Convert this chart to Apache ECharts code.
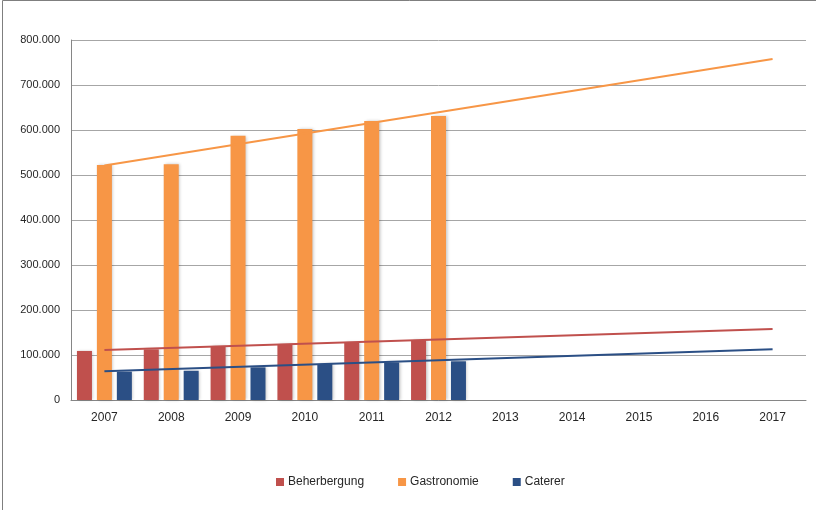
<!DOCTYPE html>
<html>
<head>
<meta charset="utf-8">
<script src="https://cdn.jsdelivr.net/npm/echarts@6/dist/echarts.min.js"></script>
<style>html,body{margin:0;padding:0;background:#fff;}#c{width:816px;height:510px;}</style>
</head>
<body>
<div id="c"></div>
<script>
const years = ['2007','2008','2009','2010','2011','2012','2013','2014','2015','2016','2017'];
const beherbergung = [109000, 112500, 119000, 124000, 129000, 133000, null, null, null, null, null];
const gastronomie = [522000, 524000, 587000, 602000, 620000, 631000, null, null, null, null, null];
const caterer = [63000, 65000, 72500, 80000, 83500, 86000, null, null, null, null, null];
const trendBeherbergung = [111000, null, null, null, null, null, null, null, null, null, 158000];
const trendGastronomie = [521000, null, null, null, null, null, null, null, null, null, 758000];
const trendCaterer = [64000, null, null, null, null, null, null, null, null, null, 113000];
const yTicks = [0, 100000, 200000, 300000, 400000, 500000, 600000, 700000, 800000];

const C_RED = '#C0504D', C_ORANGE = '#F79646', C_BLUE = '#2B4F85';
const font = '"Liberation Sans", Arial, sans-serif';

function fmt(v) {
  if (v === 0) return '0';
  const s = String(Math.round(v));
  return s.replace(/\B(?=(\d{3})+(?!\d))/g, '.');
}

const barShadow = {shadowColor: 'rgba(0,0,0,0.22)', shadowBlur: 3, shadowOffsetX: 1.5, shadowOffsetY: 0};

const chart = echarts.init(document.getElementById('c'), null, {renderer: 'canvas'});
chart.setOption({
  animation: false,
  backgroundColor: '#fff',
  textStyle: {fontFamily: font},
  graphic: [{
    type: 'rect', x: 0, y: 0, silent: true,
    shape: {x: 2.5, y: 0.5, width: 900, height: 600},
    style: {fill: 'none', stroke: '#7f7f7f', lineWidth: 1}
  }],
  grid: {left: 71, right: 10, top: 40, bottom: 110, containLabel: false},
  legend: {
    data: ['Beherbergung', 'Gastronomie', 'Caterer'],
    left: 271, top: 471,
    icon: 'rect', itemWidth: 8, itemHeight: 8, itemGap: 34,
    textStyle: {fontFamily: font, fontSize: 12, color: '#262626', padding: [0, 0, 0, -1]}
  },
  xAxis: {
    type: 'category', data: years, boundaryGap: true,
    axisLine: {show: true, lineStyle: {color: '#868686', width: 1}},
    axisTick: {show: false},
    axisLabel: {fontFamily: font, fontSize: 12, color: '#262626', margin: 12}
  },
  yAxis: {
    type: 'value', min: yTicks[0], max: yTicks[yTicks.length - 1], interval: yTicks[1] - yTicks[0],
    axisLine: {show: true, lineStyle: {color: '#868686', width: 1}},
    axisTick: {show: false},
    splitLine: {show: true, lineStyle: {color: '#A6A6A6', width: 1}},
    axisLabel: {fontFamily: font, fontSize: 11, color: '#262626', margin: 11, formatter: fmt}
  },
  series: [
    {name: 'Beherbergung', type: 'bar', data: beherbergung, barWidth: 15, barGap: '33%',
      itemStyle: Object.assign({color: C_RED}, barShadow)},
    {name: 'Gastronomie', type: 'bar', data: gastronomie, barWidth: 15, barGap: '33%',
      itemStyle: Object.assign({color: C_ORANGE}, barShadow)},
    {name: 'Caterer', type: 'bar', data: caterer, barWidth: 15, barGap: '33%',
      itemStyle: Object.assign({color: C_BLUE}, barShadow)},
    {name: 'Trend Beherbergung', type: 'line', data: trendBeherbergung, connectNulls: true,
      symbol: 'none', lineStyle: {color: C_RED, width: 2}, itemStyle: {color: C_RED}, z: 5},
    {name: 'Trend Gastronomie', type: 'line', data: trendGastronomie, connectNulls: true,
      symbol: 'none', lineStyle: {color: C_ORANGE, width: 2}, itemStyle: {color: C_ORANGE}, z: 5},
    {name: 'Trend Caterer', type: 'line', data: trendCaterer, connectNulls: true,
      symbol: 'none', lineStyle: {color: C_BLUE, width: 2}, itemStyle: {color: C_BLUE}, z: 5}
  ]
});
</script>
</body>
</html>
